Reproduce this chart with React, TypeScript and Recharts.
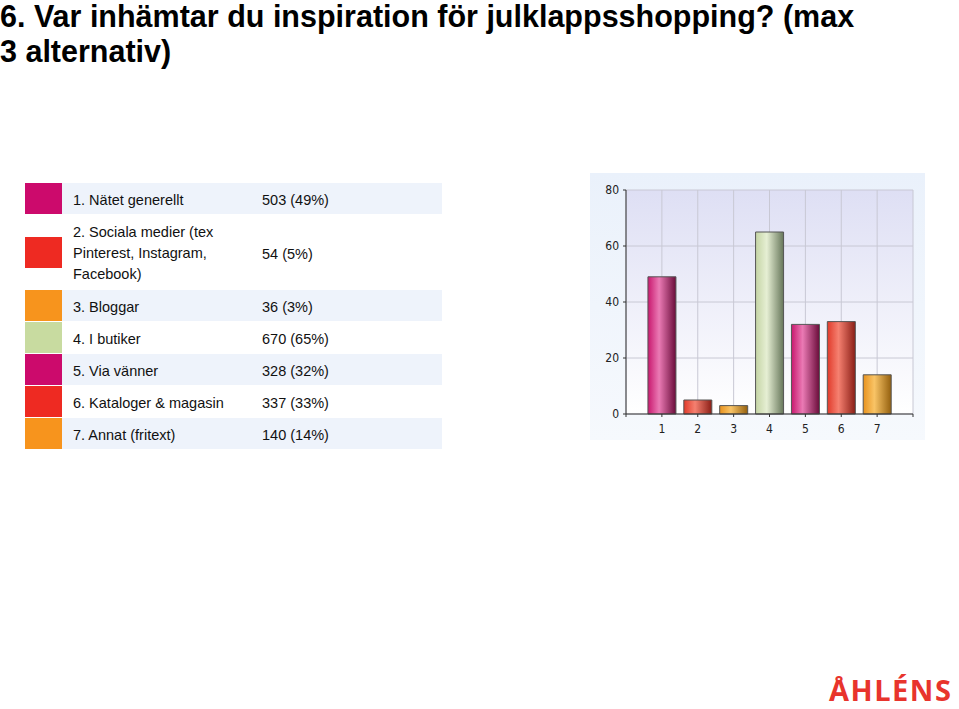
import { Bar, BarChart, CartesianGrid, Cell, XAxis, YAxis } from "recharts";

const labels = [
  "1. Nätet generellt",
  "2. Sociala medier (tex Pinterest, Instagram, Facebook)",
  "3. Bloggar",
  "4. I butiker",
  "5. Via vänner",
  "6. Kataloger & magasin",
  "7. Annat (fritext)",
];
const counts = [503, 54, 36, 670, 328, 337, 140];
const percents = [49, 5, 3, 65, 32, 33, 14];
const categories = [1, 2, 3, 4, 5, 6, 7];
const yTicks = [0, 20, 40, 60, 80];
const xTicks = [0, 1, 2, 3, 4, 5, 6, 7, 8];

const swatchColors = ["#cc0a6c", "#ee2a22", "#f7941d", "#c8dba0", "#cc0a6c", "#ee2a22", "#f7941d"];
// left / highlight / shadow stops for the cylinder look
const barShades = [
  ["#c8186e", "#ea7ab4", "#6a0c3a"],
  ["#e03a2a", "#f58070", "#8a1e16"],
  ["#e8921e", "#f9c466", "#94600e"],
  ["#c4d4a4", "#e6efd4", "#66765a"],
  ["#c8186e", "#ea7ab4", "#6a0c3a"],
  ["#e03a2a", "#f58070", "#8a1e16"],
  ["#e8921e", "#f9c466", "#94600e"],
];

const rowHeights = [32, 75, 32, 32, 32, 32, 32];

const data = categories.map((c, i) => ({ x: c, value: percents[i] }));

const font = "'Liberation Sans', Arial, sans-serif";
const tickFont = { fill: "#222", fontSize: 12, fontFamily: "'DejaVu Sans Condensed', sans-serif" };

function Legend() {
  let top = 183;
  return (
    <>
      {labels.map((label, i) => {
        const h = rowHeights[i];
        const y = top;
        top += h;
        const shaded = i % 2 === 0;
        return (
          <div
            key={label}
            style={{
              position: "absolute",
              left: 25,
              top: y,
              width: 417,
              height: h - 1,
              display: "flex",
              fontFamily: font,
              fontSize: 14.5,
              color: "#111",
            }}
          >
            <div style={{ width: 37, display: "flex", alignItems: "center" }}>
              <div style={{ width: 37, height: 31, background: swatchColors[i] }} />
            </div>
            <div
              style={{
                flex: 1,
                display: "flex",
                alignItems: "center",
                paddingTop: 3,
                boxSizing: "border-box",
                background: shaded ? "#eef3fb" : "#fff",
              }}
            >
              <div style={{ width: 189, paddingLeft: 11, lineHeight: "21px" }}>{label}</div>
              <div>
                {counts[i]} ({percents[i]}%)
              </div>
            </div>
          </div>
        );
      })}
    </>
  );
}

export default function App() {
  return (
    <div style={{ position: "absolute", left: 0, top: 0, width: 959, height: 709, background: "#fff", overflow: "hidden" }}>
      <div
        style={{
          position: "absolute",
          left: 0,
          top: -1,
          fontFamily: font,
          fontWeight: "bold",
          fontSize: 30.5,
          lineHeight: "35px",
          color: "#000",
          whiteSpace: "nowrap",
        }}
      >
        6. Var inhämtar du inspiration för julklappsshopping? (max
        <br />3 alternativ)
      </div>

      <Legend />

      <div
        style={{
          position: "absolute",
          left: 590,
          top: 173,
          width: 335,
          height: 267,
          background: "linear-gradient(#eaf1fb, #f6f9fd)",
        }}
      >
        <BarChart width={335} height={267} data={data} margin={{ top: 17, right: 12, bottom: 2, left: 0 }}>
          <defs>
            <linearGradient id="plotBg" x1="0" y1="0" x2="0" y2="1">
              <stop offset="0%" stopColor="#dedff4" />
              <stop offset="100%" stopColor="#ffffff" />
            </linearGradient>
            {barShades.map((s, i) => (
              <linearGradient key={i} id={`bar${i}`} x1="0" y1="0" x2="1" y2="0">
                <stop offset="0%" stopColor={s[0]} />
                <stop offset="40%" stopColor={s[1]} />
                <stop offset="100%" stopColor={s[2]} />
              </linearGradient>
            ))}
          </defs>
          <CartesianGrid stroke="#c8c8d4" fill="url(#plotBg)" fillOpacity={1} />
          <XAxis
            dataKey="x"
            type="number"
            domain={[0, 8]}
            ticks={xTicks}
            interval={0}
            tickFormatter={(v) => (v === 0 || v === 8 ? "" : String(v))}
            stroke="#333"
            tickSize={3}
            tickMargin={7}
            tick={tickFont}
            height={24}
          />
          <YAxis
            domain={[0, 80]}
            ticks={yTicks}
            interval={0}
            stroke="#333"
            tickSize={3}
            tickMargin={4}
            width={36}
            tick={tickFont}
          />
          <Bar dataKey="value" barSize={28} stroke="#555" strokeWidth={1} isAnimationActive={false}>
            {data.map((d, i) => (
              <Cell key={d.x} fill={`url(#bar${i})`} />
            ))}
          </Bar>
        </BarChart>
      </div>

      <div
        style={{
          position: "absolute",
          left: 829,
          top: 675,
          fontFamily: "'Open Sans', 'Liberation Sans', sans-serif",
          fontWeight: 700,
          fontSize: 29,
          lineHeight: "29px",
          letterSpacing: 1.5,
          whiteSpace: "nowrap",
          color: "#e8342c",
        }}
      >
        ÅHLÉNS
      </div>
    </div>
  );
}
